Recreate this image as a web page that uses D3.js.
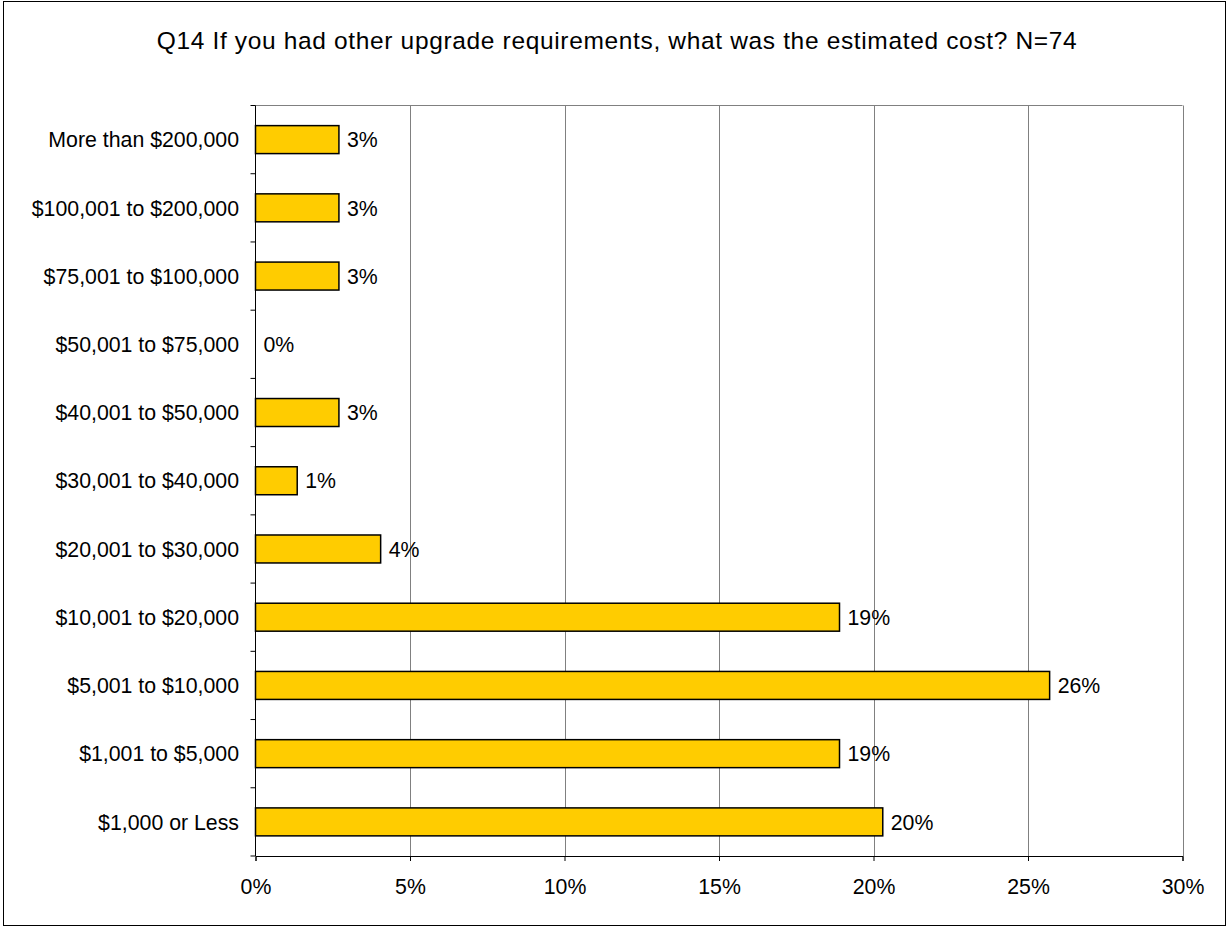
<!DOCTYPE html>
<html>
<head>
<meta charset="utf-8">
<script src="https://cdn.jsdelivr.net/npm/d3@7"></script>
<style>
  html, body { margin: 0; padding: 0; background: #fff; }
  svg { display: block; font-family: "Liberation Sans", Arial, sans-serif; }
</style>
</head>
<body>
<svg id="chart" width="1227" height="928"></svg>
<script>
// Cost brackets, listed top to bottom as drawn
const categories = [
  "More than $200,000",
  "$100,001 to $200,000",
  "$75,001 to $100,000",
  "$50,001 to $75,000",
  "$40,001 to $50,000",
  "$30,001 to $40,000",
  "$20,001 to $30,000",
  "$10,001 to $20,000",
  "$5,001 to $10,000",
  "$1,001 to $5,000",
  "$1,000 or Less"
];
// Share of respondents (N=74)
const shares = [0.027, 0.027, 0.027, 0, 0.027, 0.0135, 0.0405, 0.189, 0.257, 0.189, 0.203];
const xTicks = [0, 0.05, 0.10, 0.15, 0.20, 0.25, 0.30];
const titleText = "Q14 If you had other upgrade requirements, what was the estimated cost? N=74";

const svg = d3.select("#chart");
const labelSize = 21.3;

// Outer chart frame
svg.append("rect")
  .attr("x", 3.5).attr("y", 1.5)
  .attr("width", 1222).attr("height", 924)
  .attr("fill", "#fff").attr("stroke", "#000").attr("stroke-width", 1);

svg.append("text")
  .attr("x", 616.7).attr("y", 49)
  .attr("text-anchor", "middle")
  .attr("font-size", 24.5)
  .attr("textLength", 920)
  .attr("lengthAdjust", "spacing")
  .attr("fill", "#000")
  .text(titleText);

const plotL = 255.5, plotR = 1182.5, plotT = 105.5, plotB = 856;

const x = d3.scaleLinear().domain([0, 0.30]).range([plotL, plotR]);
const y = d3.scaleBand().domain(categories).range([plotT, plotB])
  .paddingInner(0.59).paddingOuter(0.295);

const fmt = d3.format(".0%");

// Top edge of the plot area
svg.append("line")
  .attr("x1", plotL).attr("x2", plotR)
  .attr("y1", plotT).attr("y2", plotT)
  .attr("stroke", "#808080").attr("stroke-width", 1);

// Vertical gridlines
svg.append("g")
  .selectAll("line")
  .data(xTicks.slice(1))
  .join("line")
  .attr("x1", d => Math.round(x(d)) + 0.5).attr("x2", d => Math.round(x(d)) + 0.5)
  .attr("y1", plotT).attr("y2", plotB)
  .attr("stroke", "#808080").attr("stroke-width", 1);

// Bars
svg.append("g")
  .selectAll("rect")
  .data(categories)
  .join("rect")
  .attr("x", x(0))
  .attr("y", d => y(d))
  .attr("width", (d, i) => x(shares[i]) - x(0))
  .attr("height", y.bandwidth())
  .attr("fill", "#FFCC00")
  .attr("stroke", "#000")
  .attr("stroke-width", 1.5);

// Value labels
svg.append("g")
  .selectAll("text")
  .data(categories)
  .join("text")
  .attr("x", (d, i) => x(shares[i]) + 8)
  .attr("y", d => y(d) + y.bandwidth() / 2)
  .attr("dy", "0.36em")
  .attr("font-size", labelSize)
  .attr("fill", "#000")
  .text((d, i) => fmt(shares[i]));

// Category axis
const yAxis = svg.append("g");
yAxis.append("line")
  .attr("x1", plotL).attr("x2", plotL)
  .attr("y1", plotT).attr("y2", plotB)
  .attr("stroke", "#000").attr("stroke-width", 1);
yAxis.selectAll("line.tick")
  .data(d3.range(categories.length + 1))
  .join("line")
  .attr("class", "tick")
  .attr("x1", plotL - 5).attr("x2", plotL)
  .attr("y1", i => plotT + i * y.step())
  .attr("y2", i => plotT + i * y.step())
  .attr("stroke", "#000").attr("stroke-width", 1);
yAxis.selectAll("text")
  .data(categories)
  .join("text")
  .attr("x", 239)
  .attr("y", d => y(d) + y.bandwidth() / 2)
  .attr("dy", "0.36em")
  .attr("text-anchor", "end")
  .attr("font-size", labelSize)
  .attr("fill", "#000")
  .text(d => d);

// Value axis
const xAxis = svg.append("g")
  .attr("transform", `translate(0,${plotB})`)
  .call(d3.axisBottom(x).tickValues(xTicks).tickFormat(fmt).tickSize(5).tickPadding(18));
xAxis.select(".domain").attr("stroke", "#000");
xAxis.selectAll(".tick line").attr("stroke", "#000");
xAxis.selectAll(".tick text")
  .attr("font-size", labelSize)
  .attr("font-family", "Liberation Sans, Arial, sans-serif")
  .attr("fill", "#000");
</script>
</body>
</html>
